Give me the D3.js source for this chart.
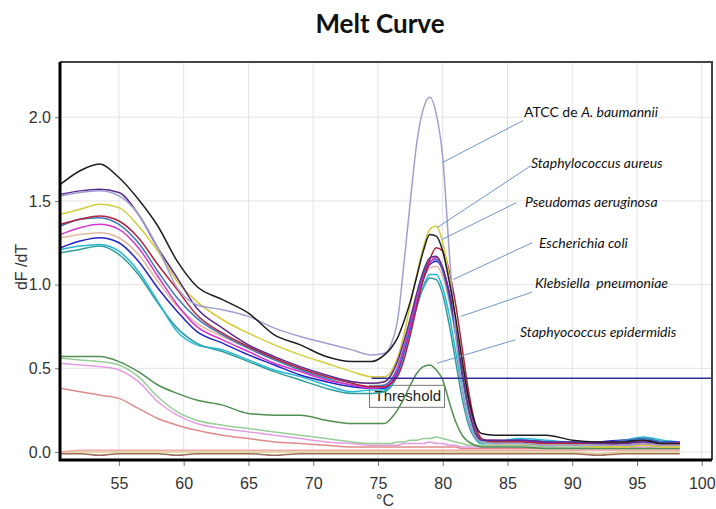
<!DOCTYPE html>
<html lang="en">
<head>
<meta charset="UTF-8">
<title>Melt Curve</title>
<script src="https://d3js.org/d3.v7.min.js"></script>
<style>
body{margin:0;background:#fff}
svg{display:block}
.tick-label{font-family:"Liberation Sans",Arial,sans-serif;font-size:16px;fill:#333}
.grid line{stroke:#e3e3e3;stroke-width:1}
.curve{fill:none;stroke-width:1.5;stroke-linejoin:round}
.note{font-family:Lato,"Open Sans",sans-serif;font-size:14px;fill:#111}
.leader{stroke:#6f94c8;stroke-width:1}
</style>
</head>
<body>
<svg id="chart" width="716" height="509"></svg>
<script>
// Temperatures (°C) where every curve is sampled
var temps = [50.5,52,53.5,55,56.5,58,59.5,61,63,65,67,69,71,73,74.5,
  75.5,76,76.5,77,77.5,78,78.5,79,79.5,80,80.5,81,81.5,82,82.5,83,
  84,86,88,90,92,94,95.5,97,98.3];

// dF/dT, one array per trace
var black = [1.60,1.68,1.72,1.64,1.51,1.35,1.14,0.99,0.91,0.83,0.70,0.64,0.57,0.54,0.54,
  0.58,0.62,0.68,0.78,0.90,1.05,1.20,1.30,1.29,1.20,1.02,0.80,0.55,0.32,0.17,0.11,
  0.10,0.10,0.10,0.07,0.06,0.06,0.07,0.05,0.05];
var atcc = [1.53,1.55,1.56,1.53,1.42,1.22,0.98,0.88,0.85,0.81,0.74,0.69,0.65,0.61,0.58,
  0.59,0.64,0.78,1.12,1.50,1.85,2.05,2.12,2.02,1.76,1.20,0.70,0.38,0.18,0.09,0.06,
  0.05,0.05,0.04,0.04,0.04,0.04,0.05,0.04,0.04];
var purple = [1.54,1.56,1.57,1.55,1.42,1.22,1.04,0.86,0.74,0.64,0.57,0.51,0.46,0.42,0.41,
  0.42,0.46,0.54,0.66,0.80,0.95,1.08,1.16,1.17,1.10,0.95,0.73,0.48,0.26,0.12,0.07,
  0.07,0.07,0.06,0.06,0.05,0.05,0.06,0.05,0.05];
var yellow = [1.42,1.45,1.48,1.46,1.35,1.20,1.02,0.90,0.79,0.71,0.64,0.58,0.53,0.48,0.45,
  0.45,0.48,0.56,0.70,0.88,1.06,1.22,1.33,1.35,1.25,1.05,0.78,0.50,0.26,0.12,0.06,
  0.05,0.05,0.04,0.04,0.03,0.03,0.04,0.03,0.03];
var darkRed = [1.36,1.39,1.41,1.38,1.28,1.12,0.97,0.82,0.71,0.63,0.56,0.50,0.45,0.41,0.39,
  0.39,0.41,0.45,0.55,0.70,0.87,1.03,1.15,1.22,1.20,1.08,0.88,0.62,0.36,0.17,0.08,
  0.06,0.06,0.05,0.05,0.05,0.04,0.05,0.04,0.04];
var steelBlue = [1.35,1.39,1.40,1.36,1.25,1.08,0.92,0.80,0.70,0.62,0.55,0.49,0.44,0.40,0.39,
  0.40,0.43,0.50,0.62,0.77,0.92,1.06,1.14,1.15,1.08,0.92,0.70,0.45,0.24,0.11,0.06,
  0.06,0.07,0.06,0.06,0.05,0.07,0.08,0.06,0.05];
var magenta = [1.30,1.34,1.36,1.33,1.22,1.05,0.88,0.75,0.67,0.60,0.53,0.48,0.43,0.40,0.38,
  0.39,0.42,0.49,0.61,0.76,0.91,1.04,1.13,1.16,1.10,0.95,0.74,0.50,0.28,0.13,0.07,
  0.07,0.06,0.06,0.05,0.06,0.06,0.06,0.05,0.06];
var tan = [1.28,1.30,1.31,1.28,1.18,1.02,0.87,0.77,0.69,0.62,0.56,0.50,0.45,0.42,0.41,
  0.42,0.45,0.52,0.63,0.77,0.91,1.03,1.10,1.11,1.05,0.90,0.70,0.46,0.25,0.12,0.06,
  0.05,0.05,0.04,0.04,0.04,0.03,0.04,0.03,0.03];
var darkBlue = [1.22,1.26,1.28,1.25,1.14,0.98,0.84,0.72,0.65,0.58,0.52,0.46,0.42,0.39,0.38,
  0.38,0.41,0.48,0.60,0.75,0.90,1.03,1.12,1.14,1.09,0.95,0.75,0.51,0.29,0.14,0.07,
  0.06,0.07,0.06,0.05,0.06,0.07,0.07,0.06,0.06];
var cyan = [1.21,1.23,1.24,1.20,1.08,0.90,0.72,0.64,0.61,0.55,0.49,0.45,0.40,0.36,0.37,
  0.37,0.40,0.46,0.58,0.72,0.87,0.99,1.06,1.06,0.98,0.82,0.60,0.38,0.19,0.09,0.05,
  0.06,0.08,0.07,0.06,0.06,0.07,0.09,0.07,0.06];
var teal = [1.19,1.21,1.23,1.18,1.06,0.89,0.74,0.65,0.60,0.54,0.48,0.43,0.38,0.35,0.35,
  0.36,0.39,0.46,0.58,0.73,0.87,0.98,1.04,1.03,0.94,0.76,0.54,0.32,0.16,0.08,0.05,
  0.05,0.06,0.05,0.05,0.05,0.06,0.08,0.06,0.05];
var darkGreen = [0.57,0.57,0.57,0.54,0.48,0.40,0.35,0.31,0.28,0.23,0.22,0.22,0.19,0.17,0.17,
  0.17,0.20,0.25,0.32,0.40,0.47,0.51,0.52,0.49,0.43,0.30,0.18,0.10,0.06,0.04,0.03,
  0.03,0.03,0.02,0.02,0.02,0.02,0.02,0.02,0.02];
var lightGreen = [0.56,0.55,0.54,0.52,0.45,0.33,0.24,0.19,0.16,0.14,0.12,0.10,0.08,0.06,0.05,
  0.05,0.05,0.06,0.06,0.07,0.07,0.08,0.08,0.09,0.08,0.07,0.06,0.05,0.04,0.04,0.04,
  0.04,0.04,0.03,0.03,0.03,0.03,0.04,0.03,0.03];
var violet = [0.53,0.52,0.51,0.49,0.42,0.30,0.22,0.17,0.14,0.12,0.10,0.08,0.06,0.05,0.04,
  0.04,0.04,0.04,0.05,0.05,0.05,0.05,0.06,0.05,0.05,0.04,0.04,0.03,0.03,0.03,0.03,
  0.03,0.03,0.03,0.02,0.02,0.02,0.03,0.02,0.02];
var rose = [0.38,0.36,0.34,0.32,0.26,0.20,0.16,0.13,0.10,0.08,0.06,0.05,0.04,0.03,0.03,
  0.03,0.03,0.03,0.03,0.03,0.03,0.03,0.03,0.03,0.03,0.03,0.03,0.02,0.02,0.02,0.02,
  0.02,0.02,0.02,0.02,0.02,0.02,0.02,0.02,0.02];
var baseBrown = [-0.01,-0.01,-0.02,-0.01,-0.01,-0.01,-0.02,-0.01,-0.01,-0.01,-0.02,-0.01,-0.01,-0.01,-0.01,
  -0.01,-0.01,-0.01,-0.01,-0.01,-0.01,-0.01,-0.01,-0.01,-0.01,-0.01,-0.01,-0.01,-0.01,-0.01,-0.01,
  -0.01,-0.01,-0.01,-0.01,-0.02,-0.01,-0.01,-0.01,-0.01];
var baseTan = [0.00,0.00,0.00,0.00,0.00,0.00,0.00,0.00,0.00,0.00,0.00,0.00,0.00,0.00,0.00,
  0.00,0.00,0.00,0.00,0.00,0.00,0.00,0.00,0.00,0.00,0.00,0.00,0.00,0.00,0.00,0.00,
  0.00,0.00,0.00,0.00,-0.01,0.00,0.00,0.00,0.00];
var basePink = [0.00,0.01,0.01,0.01,0.01,0.01,0.01,0.01,0.01,0.01,0.01,0.01,0.01,0.01,0.01,
  0.01,0.01,0.01,0.01,0.01,0.01,0.01,0.01,0.01,0.01,0.01,0.01,0.01,0.01,0.01,0.01,
  0.01,0.01,0.01,0.01,0.01,0.01,0.01,0.01,0.01];

// drawing order: back to front
var traces = [
  { values: baseTan, color: '#e0cf8c' },
  { values: basePink, color: '#f2a9b0' },
  { values: baseBrown, color: '#9c6b5a' },
  { values: rose, color: '#e08a8a' },
  { values: violet, color: '#e49be4' },
  { values: lightGreen, color: '#97cd97' },
  { values: darkGreen, color: '#4f8f4f' },
  { values: teal, color: '#2f9c9c' },
  { values: cyan, color: '#27b7d4' },
  { values: tan, color: '#e2b7a3' },
  { values: darkBlue, color: '#2424c4' },
  { values: steelBlue, color: '#3a78b5' },
  { values: magenta, color: '#d633cc' },
  { values: darkRed, color: '#b3233f' },
  { values: yellow, color: '#d4cc3a' },
  { values: purple, color: '#5b2c8f' },
  { values: atcc, color: '#a0a0d0' },
  { values: black, color: '#1e1e1e' }
];

var xTicks = [55, 60, 65, 70, 75, 80, 85, 90, 95, 100];
var yTicks = [0.0, 0.5, 1.0, 1.5, 2.0];
var threshold = 0.44;
var thresholdFrom = 74.5;

// species labels: text anchor (t, v) and leader line from (t1, v1) to (t2, v2)
var labelText = ['ATCC de |A. baumannii', '|Staphylococcus aureus', '|Pseudomas aeruginosa',
  '|Escherichia coli', '|Klebsiella  pneumoniae', '|Staphyococcus epidermidis'];
var labelT = [86.27, 86.81, 86.35, 87.43, 87.12, 85.97];
var labelV = [2.00, 1.695, 1.463, 1.218, 0.979, 0.687];
var leaderT1 = [86.2, 86.8, 85.7, 86.9, 86.9, 85.6];
var leaderV1 = [1.98, 1.71, 1.49, 1.25, 0.955, 0.67];
var leaderT2 = [80.0, 79.56, 79.95, 80.8, 81.4, 79.56];
var leaderV2 = [1.73, 1.34, 1.27, 1.03, 0.81, 0.53];

var svg = d3.select('#chart');
var plotLeft = 60, plotRight = 712, plotTop = 62, plotBottom = 460;

var x = d3.scaleLinear().domain([50.45, 100.79]).range([plotLeft, plotRight]);
var y = d3.scaleLinear().domain([-0.048, 2.33]).range([plotBottom, plotTop]);

svg.append('rect').attr('width', 716).attr('height', 509).attr('fill', '#fff');

// title
svg.append('text')
  .attr('x', 380).attr('y', 33)
  .attr('text-anchor', 'middle')
  .style('font-family', 'Lato, "Open Sans", sans-serif')
  .style('font-weight', 700)
  .style('font-size', '26px')
  .attr('fill', '#111')
  .text('Melt Curve');

// grid
var grid = svg.append('g').attr('class', 'grid');
grid.selectAll('.vx').data(xTicks).join('line')
  .attr('x1', function(d) { return x(d); }).attr('x2', function(d) { return x(d); })
  .attr('y1', plotTop).attr('y2', plotBottom);
grid.selectAll('.hy').data(yTicks).join('line')
  .attr('x1', plotLeft).attr('x2', plotRight)
  .attr('y1', function(d) { return y(d); }).attr('y2', function(d) { return y(d); });

// axes
var xAxis = svg.append('g').attr('transform', 'translate(0,' + plotBottom + ')')
  .call(d3.axisBottom(x).tickValues(xTicks).tickSize(6).tickPadding(12).tickFormat(d3.format('d')));
var yAxis = svg.append('g').attr('transform', 'translate(' + plotLeft + ',0)')
  .call(d3.axisLeft(y).tickValues(yTicks).tickSize(5).tickPadding(4).tickFormat(d3.format('.1f')));
[xAxis, yAxis].forEach(function(a) {
  a.select('.domain').remove();
  a.selectAll('.tick line').attr('stroke', '#777');
  a.selectAll('.tick text').attr('class', 'tick-label').attr('fill', null);
});

// threshold box (under the curves)
svg.append('rect')
  .attr('x', x(thresholdFrom) - 2).attr('y', y(threshold) + 7)
  .attr('width', 75).attr('height', 22)
  .attr('fill', '#fff').attr('stroke', '#777');
svg.append('text')
  .attr('x', x(thresholdFrom) + 3).attr('y', y(threshold) + 23)
  .style('font-family', '"Liberation Sans", Arial, sans-serif')
  .style('font-size', '15px')
  .attr('fill', '#222')
  .text('Threshold');

// curves
var line = d3.line()
  .x(function(d, i) { return x(temps[i]); })
  .y(function(d) { return y(d); })
  .curve(d3.curveMonotoneX);

svg.append('g').selectAll('path').data(traces).join('path')
  .attr('class', 'curve')
  .attr('stroke', function(d) { return d.color; })
  .attr('d', function(d) { return line(d.values); });

// threshold line
svg.append('line')
  .attr('x1', x(thresholdFrom)).attr('x2', plotRight)
  .attr('y1', y(threshold)).attr('y2', y(threshold))
  .attr('stroke', '#2e3192').attr('stroke-width', 1.5);

// frame
svg.append('path')
  .attr('d', 'M' + plotLeft + ',' + plotTop + 'H' + plotRight + 'V' + plotBottom)
  .attr('fill', 'none').attr('stroke', '#444').attr('stroke-width', 2);
svg.append('path')
  .attr('d', 'M' + plotLeft + ',' + plotTop + 'V' + plotBottom + 'H' + plotRight)
  .attr('fill', 'none').attr('stroke', '#000').attr('stroke-width', 3);

// axis titles
svg.append('text')
  .attr('transform', 'translate(27,267) rotate(-90)')
  .attr('text-anchor', 'middle')
  .attr('class', 'tick-label')
  .text('dF /dT');
svg.append('text')
  .attr('x', 385).attr('y', 506)
  .attr('text-anchor', 'middle')
  .attr('class', 'tick-label')
  .text('°C');

// species annotations
var notes = svg.append('g');
labelText.forEach(function(s, i) {
  notes.append('line').attr('class', 'leader')
    .attr('x1', x(leaderT1[i])).attr('y1', y(leaderV1[i]))
    .attr('x2', x(leaderT2[i])).attr('y2', y(leaderV2[i]));
  var parts = s.split('|');
  var t = notes.append('text').attr('class', 'note')
    .attr('x', x(labelT[i])).attr('y', y(labelV[i]));
  if (parts[0]) t.append('tspan').text(parts[0]);
  t.append('tspan').style('font-style', 'italic').attr('xml:space', 'preserve').text(parts[1]);
});
</script>
</body>
</html>
